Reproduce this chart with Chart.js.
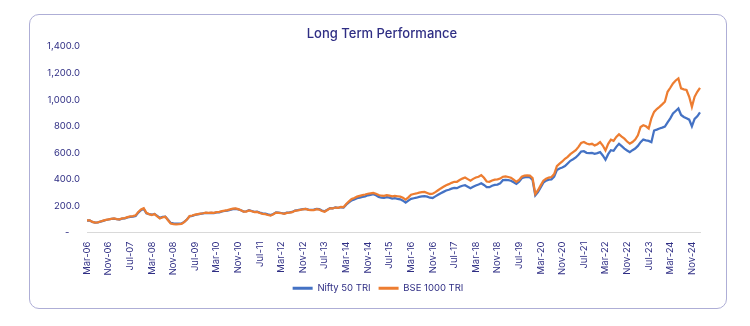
<!DOCTYPE html>
<html>
<head>
<meta charset="utf-8">
<title>Long Term Performance</title>
<script src="https://cdn.jsdelivr.net/npm/chart.js@4.4.1/dist/chart.umd.min.js"></script>
<style>
  html, body { margin: 0; padding: 0; background: #ffffff; }
  #frame {
    position: absolute; left: 29px; top: 14px; width: 696px; height: 293px;
    border: 1.5px solid #aeaed6; border-radius: 10px;
  }
  #wrap { position: absolute; left: 0; top: 0; width: 750px; height: 326px; }
</style>
</head>
<body>
<div id="frame"></div>
<div id="wrap"><canvas id="chartPerf" width="750" height="326"></canvas></div>
<script>
// monthly series, first point Mar-06, one value per month
const startMonth = 2;   // March
const startYear = 2006;

// tick labels shown on the x axis (every 8th month)
const tickLabels = ['Mar-06', 'Nov-06', 'Jul-07', 'Mar-08', 'Nov-08', 'Jul-09', 'Mar-10', 'Nov-10',
  'Jul-11', 'Mar-12', 'Nov-12', 'Jul-13', 'Mar-14', 'Nov-14', 'Jul-15', 'Mar-16', 'Nov-16',
  'Jul-17', 'Mar-18', 'Nov-18', 'Jul-19', 'Mar-20', 'Nov-20', 'Jul-21', 'Mar-22', 'Nov-22',
  'Jul-23', 'Mar-24', 'Nov-24'];

// Nifty 50 TRI
const nifty = [
  90, 91, 80, 74, 76, 82, 88, 94, 98, 102, 104, 100,
  98, 104, 106, 114, 118, 120, 125, 150, 168, 178, 145, 138,
  134, 140, 125, 110, 118, 120, 96, 72, 68, 66, 66, 68,
  80, 98, 122, 125, 132, 136, 140, 144, 148, 146, 147, 146,
  151, 152, 158, 162, 165, 170, 176, 178, 174, 168, 158, 160,
  168, 162, 155, 157, 150, 144, 142, 136, 131, 140, 152, 150,
  147, 142, 150, 152, 155, 165, 168, 172, 176, 178, 172, 170,
  172, 178, 176, 166, 160, 172, 184, 182, 189, 186, 190, 188,
  210, 226, 242, 248, 258, 262, 268, 272, 280, 284, 288, 280,
  268, 262, 260, 266, 262, 255, 258, 254, 250, 240, 225, 240,
  253, 258, 262, 268, 272, 274, 270, 262, 260, 272, 284, 296,
  306, 316, 322, 330, 336, 334, 344, 352, 356, 345, 333, 344,
  354, 362, 371, 358, 342, 341, 352, 358, 361, 370, 394, 396,
  395, 390, 378, 366, 382, 408, 416, 418, 416, 395, 280, 305,
  340, 375, 390, 398, 400, 420, 470, 482, 490, 500, 520, 540,
  552, 565, 585, 610, 612, 600, 598, 600, 593, 598, 605, 580,
  548, 590, 620, 615, 645, 668, 650, 632, 618, 605, 620, 632,
  652, 680, 700, 694, 690, 680, 768, 775, 783, 790, 798, 830,
  860, 896, 915, 934, 885, 870, 860, 850, 800, 855, 875, 905
];

// BSE 1000 TRI
const bse1000 = [
  91, 92, 80, 74, 77, 83, 89, 95, 99, 103, 106, 101,
  99, 106, 108, 116, 121, 123, 129, 155, 173, 183, 148, 138,
  132, 139, 122, 106, 115, 118, 92, 68, 63, 62, 63, 65,
  78, 97, 124, 128, 135, 139, 142, 145, 149, 147, 149, 148,
  153, 155, 161, 165, 169, 174, 179, 181, 176, 168, 157, 158,
  166, 160, 153, 155, 147, 141, 138, 132, 127, 137, 150, 148,
  145, 140, 148, 150, 153, 163, 166, 170, 175, 178, 171, 168,
  169, 176, 173, 162, 156, 169, 182, 181, 188, 186, 192, 191,
  215, 234, 252, 260, 270, 276, 282, 286, 292, 295, 298, 292,
  282, 277, 276, 282, 278, 272, 276, 273, 270, 262, 248, 265,
  285, 290, 294, 300, 304, 306, 298, 290, 292, 304, 318, 332,
  344, 356, 364, 374, 382, 382, 395, 406, 414, 402, 390, 404,
  414, 420, 432, 412, 384, 382, 392, 398, 400, 406, 420, 422,
  418, 412, 398, 382, 396, 420, 428, 430, 428, 410, 290, 318,
  355, 390, 405, 414, 418, 440, 500, 518, 535, 555, 570, 590,
  605, 620, 645, 675, 682, 670, 664, 668, 656, 665, 681, 655,
  618, 668, 699, 690, 720, 739, 722, 707, 685, 669, 681, 700,
  732, 795, 808, 800, 783, 860, 908, 930, 946, 965, 985, 1060,
  1090, 1123, 1145, 1161, 1085, 1078, 1073, 1022, 946, 1022, 1060, 1090
];

const monthNames = ['Jan', 'Feb', 'Mar', 'Apr', 'May', 'Jun', 'Jul', 'Aug', 'Sep', 'Oct', 'Nov', 'Dec'];

// category labels, one per month
const categories = nifty.map((v, i) => {
  const m = (startMonth + i) % 12;
  const y = startYear + Math.floor((startMonth + i) / 12);
  return monthNames[m] + '-' + String(y).slice(2);
});

const navy = '#2f2e84';
const fontFam = "'Inter', 'Open Sans', sans-serif";

const ctx = document.getElementById('chartPerf').getContext('2d');

new Chart(ctx, {
  type: 'line',
  data: {
    labels: categories,
    datasets: [
      {
        label: 'Nifty 50 TRI',
        data: nifty,
        borderColor: '#4472c4',
        backgroundColor: '#4472c4',
        borderWidth: 2.25,
        pointRadius: 0,
        tension: 0,
        order: 1
      },
      {
        label: 'BSE 1000 TRI',
        data: bse1000,
        borderColor: '#ed7d31',
        backgroundColor: '#ed7d31',
        borderWidth: 2.25,
        pointRadius: 0,
        tension: 0,
        order: 0
      }
    ]
  },
  options: {
    responsive: false,
    animation: false,
    layout: {
      // title and legend are centred between these paddings
      padding: { left: 40, right: 26, top: 0, bottom: 23 }
    },
    plugins: {
      title: {
        display: true,
        text: 'Long Term Performance',
        color: navy,
        font: { family: fontFam, size: 13, weight: 500 },
        padding: { top: 26, bottom: 5 }
      },
      legend: {
        display: true,
        position: 'bottom',
        labels: {
          color: navy,
          font: { family: fontFam, size: 9.5 },
          boxWidth: 20,
          boxHeight: 3,
          padding: 8,
          sort: (a, b) => a.datasetIndex - b.datasetIndex,
          generateLabels: function(chart) {
            const items = Chart.defaults.plugins.legend.labels.generateLabels(chart);
            // trailing spaces on the first entry widen the gap between the two items
            return items.map((it, i) => Object.assign(it, {
              fillStyle: it.strokeStyle,
              lineWidth: 0,
              text: i === 0 ? it.text + '   ' : it.text
            }));
          }
        }
      },
      tooltip: { enabled: false }
    },
    scales: {
      x: {
        grid: { display: false, drawTicks: false },
        border: { display: true, color: '#d9d9d9', width: 1 },
        ticks: {
          autoSkip: false,
          minRotation: 90,
          maxRotation: 90,
          padding: 9,
          color: navy,
          font: { family: fontFam, size: 9.5 },
          callback: function(value, index) {
            return index % 8 === 0 ? tickLabels[index / 8] : '';
          }
        },
        afterFit: function(scale) { scale.height = 43; }
      },
      y: {
        min: 0,
        max: 1400,
        grid: { display: false, drawTicks: false },
        border: { display: false },
        ticks: {
          stepSize: 200,
          padding: 7,
          color: navy,
          font: { family: fontFam, size: 9.5 },
          callback: function(value) {
            if (value === 0) return '-    ';
            return value.toLocaleString('en-US', { minimumFractionDigits: 1, maximumFractionDigits: 1 });
          }
        },
        afterFit: function(scale) { scale.width = 47; }
      },
      // empty spacer on the right so the plot ends where the reference does
      yRight: {
        type: 'linear',
        position: 'right',
        display: true,
        grid: { display: false, drawTicks: false },
        border: { display: false },
        ticks: { display: false },
        afterFit: function(scale) { scale.width = 24; }
      }
    }
  }
});
</script>
</body>
</html>
